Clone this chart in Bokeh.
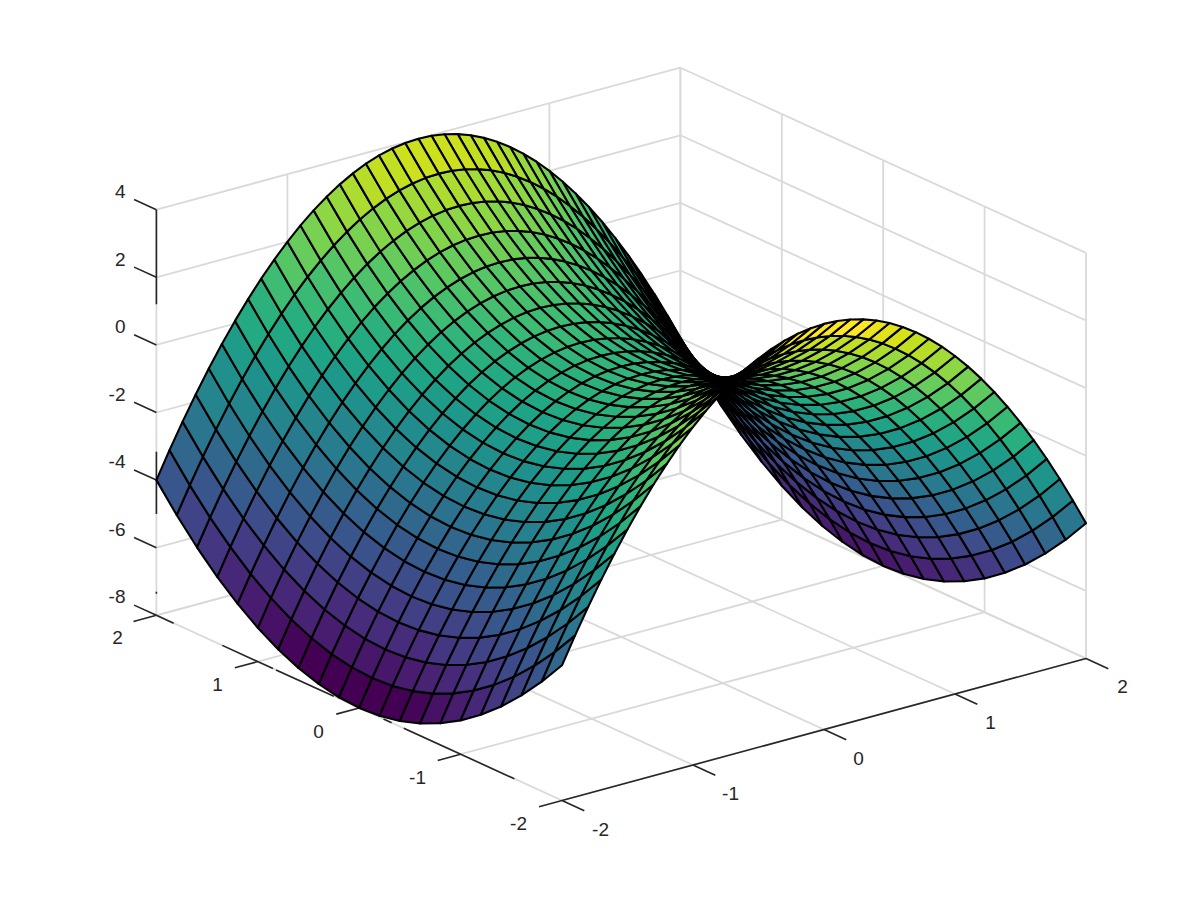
from bokeh.plotting import figure
from bokeh.embed import file_html
from bokeh.resources import INLINE
from bokeh.models import Range1d, ColumnDataSource, LinearColorMapper
from bokeh.palettes import Viridis256
from bokeh.core.properties import value

x_vals = [-2.0,-1.9,-1.8,-1.7,-1.6,-1.5,-1.4,-1.3,-1.2,-1.1,-1.0,-0.9,-0.8,-0.7,-0.6,-0.5,-0.4,-0.3,-0.2,-0.1,0.0,
          0.1,0.2,0.3,0.4,0.5,0.6,0.7,0.8,0.9,1.0,1.1,1.2,1.3,1.4,1.5,1.6,1.7,1.8,1.9,2.0]
y_vals = [-2.0,-1.8,-1.6,-1.4,-1.2,-1.0,-0.8,-0.6,-0.4,-0.2,0.0,0.2,0.4,0.6,0.8,1.0,1.2,1.4,1.6,1.8,2.0]
z_rows = [
[-4,-4.76,-5.44,-6.04,-6.56,-7,-7.36,-7.64,-7.84,-7.96,-8,-7.96,-7.84,-7.64,-7.36,-7,-6.56,-6.04,-5.44,-4.76,-4],
[-3.22,-3.98,-4.66,-5.26,-5.78,-6.22,-6.58,-6.86,-7.06,-7.18,-7.22,-7.18,-7.06,-6.86,-6.58,-6.22,-5.78,-5.26,-4.66,-3.98,-3.22],
[-2.48,-3.24,-3.92,-4.52,-5.04,-5.48,-5.84,-6.12,-6.32,-6.44,-6.48,-6.44,-6.32,-6.12,-5.84,-5.48,-5.04,-4.52,-3.92,-3.24,-2.48],
[-1.78,-2.54,-3.22,-3.82,-4.34,-4.78,-5.14,-5.42,-5.62,-5.74,-5.78,-5.74,-5.62,-5.42,-5.14,-4.78,-4.34,-3.82,-3.22,-2.54,-1.78],
[-1.12,-1.88,-2.56,-3.16,-3.68,-4.12,-4.48,-4.76,-4.96,-5.08,-5.12,-5.08,-4.96,-4.76,-4.48,-4.12,-3.68,-3.16,-2.56,-1.88,-1.12],
[-0.5,-1.26,-1.94,-2.54,-3.06,-3.5,-3.86,-4.14,-4.34,-4.46,-4.5,-4.46,-4.34,-4.14,-3.86,-3.5,-3.06,-2.54,-1.94,-1.26,-0.5],
[0.08,-0.68,-1.36,-1.96,-2.48,-2.92,-3.28,-3.56,-3.76,-3.88,-3.92,-3.88,-3.76,-3.56,-3.28,-2.92,-2.48,-1.96,-1.36,-0.68,0.08],
[0.62,-0.14,-0.82,-1.42,-1.94,-2.38,-2.74,-3.02,-3.22,-3.34,-3.38,-3.34,-3.22,-3.02,-2.74,-2.38,-1.94,-1.42,-0.82,-0.14,0.62],
[1.12,0.36,-0.32,-0.92,-1.44,-1.88,-2.24,-2.52,-2.72,-2.84,-2.88,-2.84,-2.72,-2.52,-2.24,-1.88,-1.44,-0.92,-0.32,0.36,1.12],
[1.58,0.82,0.14,-0.46,-0.98,-1.42,-1.78,-2.06,-2.26,-2.38,-2.42,-2.38,-2.26,-2.06,-1.78,-1.42,-0.98,-0.46,0.14,0.82,1.58],
[2,1.24,0.56,-0.04,-0.56,-1,-1.36,-1.64,-1.84,-1.96,-2,-1.96,-1.84,-1.64,-1.36,-1,-0.56,-0.04,0.56,1.24,2],
[2.38,1.62,0.94,0.34,-0.18,-0.62,-0.98,-1.26,-1.46,-1.58,-1.62,-1.58,-1.46,-1.26,-0.98,-0.62,-0.18,0.34,0.94,1.62,2.38],
[2.72,1.96,1.28,0.68,0.16,-0.28,-0.64,-0.92,-1.12,-1.24,-1.28,-1.24,-1.12,-0.92,-0.64,-0.28,0.16,0.68,1.28,1.96,2.72],
[3.02,2.26,1.58,0.98,0.46,0.02,-0.34,-0.62,-0.82,-0.94,-0.98,-0.94,-0.82,-0.62,-0.34,0.02,0.46,0.98,1.58,2.26,3.02],
[3.28,2.52,1.84,1.24,0.72,0.28,-0.08,-0.36,-0.56,-0.68,-0.72,-0.68,-0.56,-0.36,-0.08,0.28,0.72,1.24,1.84,2.52,3.28],
[3.5,2.74,2.06,1.46,0.94,0.5,0.14,-0.14,-0.34,-0.46,-0.5,-0.46,-0.34,-0.14,0.14,0.5,0.94,1.46,2.06,2.74,3.5],
[3.68,2.92,2.24,1.64,1.12,0.68,0.32,0.04,-0.16,-0.28,-0.32,-0.28,-0.16,0.04,0.32,0.68,1.12,1.64,2.24,2.92,3.68],
[3.82,3.06,2.38,1.78,1.26,0.82,0.46,0.18,-0.02,-0.14,-0.18,-0.14,-0.02,0.18,0.46,0.82,1.26,1.78,2.38,3.06,3.82],
[3.92,3.16,2.48,1.88,1.36,0.92,0.56,0.28,0.08,-0.04,-0.08,-0.04,0.08,0.28,0.56,0.92,1.36,1.88,2.48,3.16,3.92],
[3.98,3.22,2.54,1.94,1.42,0.98,0.62,0.34,0.14,0.02,-0.02,0.02,0.14,0.34,0.62,0.98,1.42,1.94,2.54,3.22,3.98],
[4,3.24,2.56,1.96,1.44,1,0.64,0.36,0.16,0.04,0,0.04,0.16,0.36,0.64,1,1.44,1.96,2.56,3.24,4],
[3.98,3.22,2.54,1.94,1.42,0.98,0.62,0.34,0.14,0.02,-0.02,0.02,0.14,0.34,0.62,0.98,1.42,1.94,2.54,3.22,3.98],
[3.92,3.16,2.48,1.88,1.36,0.92,0.56,0.28,0.08,-0.04,-0.08,-0.04,0.08,0.28,0.56,0.92,1.36,1.88,2.48,3.16,3.92],
[3.82,3.06,2.38,1.78,1.26,0.82,0.46,0.18,-0.02,-0.14,-0.18,-0.14,-0.02,0.18,0.46,0.82,1.26,1.78,2.38,3.06,3.82],
[3.68,2.92,2.24,1.64,1.12,0.68,0.32,0.04,-0.16,-0.28,-0.32,-0.28,-0.16,0.04,0.32,0.68,1.12,1.64,2.24,2.92,3.68],
[3.5,2.74,2.06,1.46,0.94,0.5,0.14,-0.14,-0.34,-0.46,-0.5,-0.46,-0.34,-0.14,0.14,0.5,0.94,1.46,2.06,2.74,3.5],
[3.28,2.52,1.84,1.24,0.72,0.28,-0.08,-0.36,-0.56,-0.68,-0.72,-0.68,-0.56,-0.36,-0.08,0.28,0.72,1.24,1.84,2.52,3.28],
[3.02,2.26,1.58,0.98,0.46,0.02,-0.34,-0.62,-0.82,-0.94,-0.98,-0.94,-0.82,-0.62,-0.34,0.02,0.46,0.98,1.58,2.26,3.02],
[2.72,1.96,1.28,0.68,0.16,-0.28,-0.64,-0.92,-1.12,-1.24,-1.28,-1.24,-1.12,-0.92,-0.64,-0.28,0.16,0.68,1.28,1.96,2.72],
[2.38,1.62,0.94,0.34,-0.18,-0.62,-0.98,-1.26,-1.46,-1.58,-1.62,-1.58,-1.46,-1.26,-0.98,-0.62,-0.18,0.34,0.94,1.62,2.38],
[2,1.24,0.56,-0.04,-0.56,-1,-1.36,-1.64,-1.84,-1.96,-2,-1.96,-1.84,-1.64,-1.36,-1,-0.56,-0.04,0.56,1.24,2],
[1.58,0.82,0.14,-0.46,-0.98,-1.42,-1.78,-2.06,-2.26,-2.38,-2.42,-2.38,-2.26,-2.06,-1.78,-1.42,-0.98,-0.46,0.14,0.82,1.58],
[1.12,0.36,-0.32,-0.92,-1.44,-1.88,-2.24,-2.52,-2.72,-2.84,-2.88,-2.84,-2.72,-2.52,-2.24,-1.88,-1.44,-0.92,-0.32,0.36,1.12],
[0.62,-0.14,-0.82,-1.42,-1.94,-2.38,-2.74,-3.02,-3.22,-3.34,-3.38,-3.34,-3.22,-3.02,-2.74,-2.38,-1.94,-1.42,-0.82,-0.14,0.62],
[0.08,-0.68,-1.36,-1.96,-2.48,-2.92,-3.28,-3.56,-3.76,-3.88,-3.92,-3.88,-3.76,-3.56,-3.28,-2.92,-2.48,-1.96,-1.36,-0.68,0.08],
[-0.5,-1.26,-1.94,-2.54,-3.06,-3.5,-3.86,-4.14,-4.34,-4.46,-4.5,-4.46,-4.34,-4.14,-3.86,-3.5,-3.06,-2.54,-1.94,-1.26,-0.5],
[-1.12,-1.88,-2.56,-3.16,-3.68,-4.12,-4.48,-4.76,-4.96,-5.08,-5.12,-5.08,-4.96,-4.76,-4.48,-4.12,-3.68,-3.16,-2.56,-1.88,-1.12],
[-1.78,-2.54,-3.22,-3.82,-4.34,-4.78,-5.14,-5.42,-5.62,-5.74,-5.78,-5.74,-5.62,-5.42,-5.14,-4.78,-4.34,-3.82,-3.22,-2.54,-1.78],
[-2.48,-3.24,-3.92,-4.52,-5.04,-5.48,-5.84,-6.12,-6.32,-6.44,-6.48,-6.44,-6.32,-6.12,-5.84,-5.48,-5.04,-4.52,-3.92,-3.24,-2.48],
[-3.22,-3.98,-4.66,-5.26,-5.78,-6.22,-6.58,-6.86,-7.06,-7.18,-7.22,-7.18,-7.06,-6.86,-6.58,-6.22,-5.78,-5.26,-4.66,-3.98,-3.22],
[-4,-4.76,-5.44,-6.04,-6.56,-7,-7.36,-7.64,-7.84,-7.96,-8,-7.96,-7.84,-7.64,-7.36,-7,-6.56,-6.04,-5.44,-4.76,-4],
]
x_ticks = [-2, -1, 0, 1, 2]
y_ticks = [-2, -1, 0, 1, 2]
z_ticks = [-8, -6, -4, -2, 0, 2, 4]
# parts of the front axes that show as black in the reference
y_axis_black = [(2.0, 1.83), (1.35, 0.85), (0.82, 0.25), (-0.24, -0.32), (-0.44, -1.53)]
z_axis_black = [(4.0, 1.2), (-3.16, -5.0), (-7.3, -7.36)]

# screen projection of the 3D box
FX, FY = 561.5, 800.0
UX = (131.0, -35.5)
UY = (-101.4, -46.3)
UZ = -33.8
ZMIN, ZMAX = -8, 4
XMIN, XMAX, YMIN, YMAX = -2, 2, -2, 2

def proj(x, y, z):
    return (FX + (x + 2) * UX[0] + (y + 2) * UY[0],
            FY + (x + 2) * UX[1] + (y + 2) * UY[1] + (z - ZMIN) * UZ)

def depth(x, y, z):
    return 101.0 * x + 131.0 * y - 288.0 * z

p = figure(width=1184, height=884, output_backend="svg", toolbar_location=None,
           x_range=Range1d(0, 1184), y_range=Range1d(884, 0), min_border=0)
p.axis.visible = False
p.grid.visible = False
p.outline_line_color = None
p.background_fill_color = "white"

seg = lambda a, b: ([proj(*a)[0], proj(*b)[0]], [proj(*a)[1], proj(*b)[1]])
gx, gy = [], []
def add(a, b):
    s = seg(a, b); gx.append(s[0]); gy.append(s[1])
for xt in x_ticks:
    add((xt, YMIN, ZMIN), (xt, YMAX, ZMIN))
    add((xt, YMAX, ZMIN), (xt, YMAX, ZMAX))
for yt in y_ticks:
    add((XMIN, yt, ZMIN), (XMAX, yt, ZMIN))
    add((XMAX, yt, ZMIN), (XMAX, yt, ZMAX))
for zt in z_ticks:
    add((XMIN, YMAX, zt), (XMAX, YMAX, zt))
    add((XMAX, YMAX, zt), (XMAX, YMIN, zt))
p.multi_line(gx, gy, line_color="#d9d9d9", line_width=1.8)

bx, by = [], []
def addb(a, b):
    s = seg(a, b); bx.append(s[0]); by.append(s[1])
addb((XMIN, YMIN, ZMIN), (XMAX, YMIN, ZMIN))
for a, b in y_axis_black:
    addb((XMIN, a, ZMIN), (XMIN, b, ZMIN))
for a, b in z_axis_black:
    addb((XMIN, YMAX, a), (XMIN, YMAX, b))
for xt in x_ticks:
    addb((xt, YMIN, ZMIN), (xt, YMIN - 0.22, ZMIN))
for yt in y_ticks:
    addb((XMIN, yt, ZMIN), (XMIN - 0.175, yt, ZMIN))
for zt in z_ticks:
    addb((XMIN, YMAX, zt), (XMIN, YMAX + 0.22, zt))
p.multi_line(bx, by, line_color="#262626", line_width=1.6)

faces = []
for i in range(len(x_vals) - 1):
    for j in range(len(y_vals) - 1):
        c = [(x_vals[i], y_vals[j], z_rows[i][j]), (x_vals[i + 1], y_vals[j], z_rows[i + 1][j]),
             (x_vals[i + 1], y_vals[j + 1], z_rows[i + 1][j + 1]), (x_vals[i], y_vals[j + 1], z_rows[i][j + 1])]
        d = sum(depth(*q) for q in c) / 4
        pts = [proj(*q) for q in c]
        faces.append((d, [q[0] for q in pts], [q[1] for q in pts], z_rows[i][j]))
faces.sort(key=lambda f: -f[0])
src = ColumnDataSource(dict(xs=[f[1] for f in faces], ys=[f[2] for f in faces], c=[f[3] for f in faces]))
palette64 = list(Viridis256[::4])[:63] + [Viridis256[-1]]
mapper = LinearColorMapper(palette=palette64, low=ZMIN, high=ZMAX)
p.patches("xs", "ys", source=src, fill_color={"field": "c", "transform": mapper},
          line_color="black", line_width=2.1, line_join="round")

lx = [600, 730, 858, 990, 1122]
ly = [829, 793, 758, 722, 686]
p.text(lx, ly, text=[str(t) for t in x_ticks], text_font=value("Liberation Sans"), text_font_size="19px",
       text_color="#262626", text_align="center", text_baseline="middle")
lx = [518, 417, 318, 217, 117]
ly = [823, 777, 731, 684, 637]
p.text(lx, ly, text=[str(t) for t in y_ticks], text_font=value("Liberation Sans"), text_font_size="19px",
       text_color="#262626", text_align="center", text_baseline="middle")
lx = [125] * 7
ly = [596, 529, 461, 394, 326, 259, 191]
p.text(lx, ly, text=[str(t) for t in z_ticks], text_font=value("Liberation Sans"), text_font_size="19px",
       text_color="#262626", text_align="right", text_baseline="middle")

open("out.html", "w").write(file_html(p, INLINE))
